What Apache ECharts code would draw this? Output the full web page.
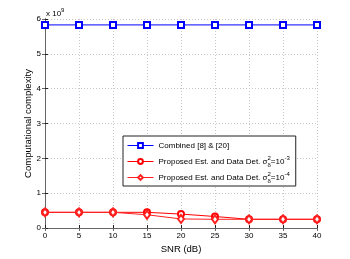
<!DOCTYPE html>
<html><head><meta charset="utf-8">
<script src="https://cdn.jsdelivr.net/npm/echarts@6/dist/echarts.min.js"></script>
<style>html,body{margin:0;padding:0;background:#fff}#c{width:350px;height:259px}</style>
</head><body><div id="c"></div>
<script>
const snr = [0, 5, 10, 15, 20, 25, 30, 35, 40];
const combined = [5.83, 5.83, 5.83, 5.83, 5.83, 5.83, 5.83, 5.83, 5.83];
const proposed3 = [0.45, 0.45, 0.45, 0.45, 0.40, 0.33, 0.25, 0.25, 0.25];
const proposed4 = [0.45, 0.45, 0.45, 0.38, 0.26, 0.25, 0.25, 0.25, 0.25];
const names = ['Combined [8] & [20]', 'Proposed Est. and Data Det. 3', 'Proposed Est. and Data Det. 4'];
const FONT = 'Liberation Sans';

const chart = echarts.init(document.getElementById('c'), null, {renderer: 'canvas'});
const toPairs = arr => snr.map((x, i) => [x, arr[i]]);
const gridLine = {show: true, lineStyle: {color: '#c8c8c8', type: [1, 2], width: 1}};
chart.setOption({
  animation: false,
  backgroundColor: '#fff',
  textStyle: {fontFamily: FONT},
  grid: {left: 45, right: 33, top: 19, bottom: 29},
  xAxis: [{
    type: 'value', min: 0, max: 40, interval: 5,
    name: 'SNR (dB)', nameLocation: 'middle', nameGap: 16, nameMoveOverlap: false,
    nameTextStyle: {fontSize: 9.5, color: '#000', fontFamily: FONT},
    axisLine: {lineStyle: {color: '#222'}},
    axisTick: {inside: true, length: 3, lineStyle: {color: '#222'}},
    axisLabel: {fontSize: 8, color: '#000', margin: 4, fontFamily: FONT},
    splitLine: gridLine
  }, {
    type: 'value', min: 0, max: 40, interval: 5, position: 'top',
    axisLine: {show: true, lineStyle: {color: '#666'}},
    axisTick: {inside: true, length: 3, lineStyle: {color: '#666'}},
    axisLabel: {show: false}, splitLine: {show: false}
  }],
  yAxis: [{
    type: 'value', min: 0, max: 6, interval: 1,
    name: 'Computational complexity', nameLocation: 'middle', nameGap: 12, nameMoveOverlap: false,
    nameTextStyle: {fontSize: 9.5, color: '#000', fontFamily: FONT},
    axisLine: {show: true, lineStyle: {color: '#222'}},
    axisTick: {show: true, inside: true, length: 3, lineStyle: {color: '#222'}},
    axisLabel: {fontSize: 8, color: '#000', margin: 4, fontFamily: FONT},
    splitLine: gridLine
  }, {
    type: 'value', min: 0, max: 6, interval: 1, position: 'right',
    axisLine: {show: true, lineStyle: {color: '#666'}},
    axisTick: {show: true, inside: true, length: 3, lineStyle: {color: '#666'}},
    axisLabel: {show: false}, splitLine: {show: false}
  }],
  legend: {
    orient: 'vertical', left: 123, top: 136,
    backgroundColor: '#fff', borderColor: '#222', borderWidth: 1,
    padding: [3, 6, 2, 4], itemWidth: 26, itemHeight: 6, itemGap: 3,
    data: names,
    lineStyle: {width: 1},
    textStyle: {
      fontSize: 8, color: '#000', fontFamily: FONT, lineHeight: 13,
      rich: {
        t: {fontSize: 8, fontFamily: FONT, lineHeight: 13},
        sup: {fontSize: 6, fontFamily: FONT, verticalAlign: 'top', width: 0, lineHeight: 13},
        sub: {fontSize: 6, fontFamily: FONT, verticalAlign: 'bottom', lineHeight: 13},
        e: {fontSize: 6, fontFamily: FONT, verticalAlign: 'top', lineHeight: 13}
      }
    },
    formatter: function (n) {
      if (n === names[0]) return '{t|' + n + '}';
      const p = n.endsWith('3') ? '-3' : '-4';
      return '{t|Proposed Est. and Data Det. σ}{sup|2}{sub|δ}{t|=10}{e|' + p + '}';
    }
  },
  series: [{
    name: names[0], type: 'line', data: toPairs(combined),
    symbol: 'emptyRect', symbolSize: 6,
    itemStyle: {color: '#0000ff', borderColor: '#0000ff', borderWidth: 1},
    lineStyle: {color: '#0000ff', width: 1}
  }, {
    name: names[1], type: 'line', data: toPairs(proposed3),
    symbol: 'emptyCircle', symbolSize: 6,
    itemStyle: {color: '#ff0000', borderWidth: 1},
    lineStyle: {color: '#ff0000', width: 1}
  }, {
    name: names[2], type: 'line', data: toPairs(proposed4),
    symbol: 'emptyDiamond', symbolSize: [6, 8],
    itemStyle: {color: '#ff2020', borderWidth: 1},
    lineStyle: {color: '#ff2020', width: 1}
  }],
  graphic: [{
    type: 'text', left: 46, top: 7,
    style: {
      text: '{a|x 10}{b|9}', fontFamily: FONT,
      rich: {a: {fontSize: 8, fontFamily: FONT, fill: '#000', verticalAlign: 'bottom', lineHeight: 11},
             b: {fontSize: 6, fontFamily: FONT, fill: '#000', verticalAlign: 'top', lineHeight: 11}}
    }
  }]
});
</script></body></html>
